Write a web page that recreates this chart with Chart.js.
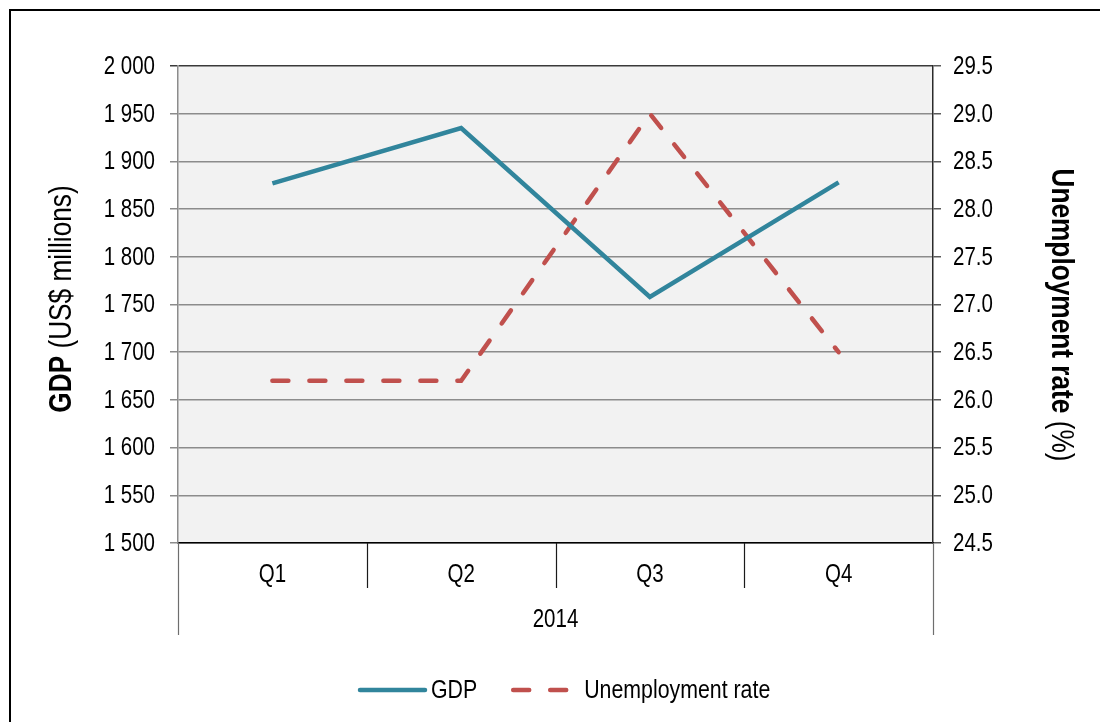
<!DOCTYPE html>
<html>
<head>
<meta charset="utf-8">
<title>GDP and unemployment rate, 2014</title>
<script src="https://cdn.jsdelivr.net/npm/chart.js@4.4.1/dist/chart.umd.min.js"></script>
<style>
  html, body { margin: 0; padding: 0; background: #fff; }
  #wrap { width: 1100px; height: 722px; position: relative; }
</style>
</head>
<body>
<div id="wrap"><canvas id="chart" width="1100" height="722"></canvas></div>
<script>
const quarters = ['Q1', 'Q2', 'Q3', 'Q4'];
const year = '2014';
const gdp = [1877, 1935, 1758, 1878];
const unemployment = [26.2, 26.2, 29.0, 26.5];
const gdpTicks = [1500, 2000, 50];
const rateTicks = [24.5, 29.5, 0.5];

const FONT = '"Liberation Sans", Arial, sans-serif';
const SQUEEZE = 0.82; // condensed look
const TEAL = '#31859c';
const RED = '#c0504d';

function spaced(v) {
  return String(v).replace(/\B(?=(\d{3})+(?!\d))/g, ' ');
}

// text squeezed horizontally to look like a narrow face
function narrow(ctx, text, x, y, align, size, bold) {
  ctx.save();
  ctx.translate(x, y);
  ctx.scale(SQUEEZE, 1);
  ctx.font = (bold ? 'bold ' : '') + size + 'px ' + FONT;
  ctx.textAlign = align;
  ctx.textBaseline = 'middle';
  ctx.fillStyle = '#000';
  ctx.fillText(text, 0, 0);
  ctx.restore();
}

// rotated title with a bold lead and a regular tail
function sideTitle(ctx, x, y, angle, bold, rest, size) {
  ctx.save();
  ctx.translate(x, y);
  ctx.rotate(angle);
  ctx.font = 'bold ' + size + 'px ' + FONT;
  const w1 = ctx.measureText(bold).width * SQUEEZE;
  ctx.font = size + 'px ' + FONT;
  const w2 = ctx.measureText(rest).width * SQUEEZE;
  const start = -(w1 + w2) / 2;
  narrow(ctx, bold, start, 0, 'left', size, true);
  narrow(ctx, rest, start + w1, 0, 'left', size, false);
  ctx.restore();
}

const decor = {
  id: 'decor',
  beforeDraw(chart) {
    const { ctx, chartArea: a } = chart;
    ctx.save();
    ctx.fillStyle = '#f2f2f2';
    ctx.fillRect(a.left, a.top, a.right - a.left, a.bottom - a.top);
    ctx.restore();
  },
  afterDraw(chart) {
    const { ctx, chartArea: a } = chart;
    const { x, y, y1 } = chart.scales;
    ctx.save();

    // outer frame (left and top edges)
    ctx.strokeStyle = '#000';
    ctx.lineWidth = 2;
    ctx.beginPath();
    ctx.moveTo(10, 722);
    ctx.lineTo(10, 10);
    ctx.lineTo(1100, 10);
    ctx.stroke();

    // value labels on both sides
    y.ticks.forEach(t => narrow(ctx, spaced(t.value), a.left - 23, y.getPixelForValue(t.value) + 1, 'right', 25));
    y1.ticks.forEach(t => narrow(ctx, t.value.toFixed(1), a.right + 20, y1.getPixelForValue(t.value) + 1, 'left', 25));

    // two-level category axis
    const step = x.getPixelForValue(1) - x.getPixelForValue(0);
    for (let i = 0; i <= quarters.length; i++) {
      const px = Math.round(x.getPixelForValue(i) - step / 2) + 0.5;
      const edge = i === 0 || i === quarters.length;
      ctx.strokeStyle = edge ? '#6e6e6e' : '#1a1a1a';
      ctx.lineWidth = 1.2;
      ctx.beginPath();
      ctx.moveTo(px, a.bottom);
      ctx.lineTo(px, a.bottom + (edge ? 92 : 45));
      ctx.stroke();
    }
    quarters.forEach((q, i) => narrow(ctx, q, x.getPixelForValue(i), a.bottom + 32, 'center', 25));
    narrow(ctx, year, (a.left + a.right) / 2, a.bottom + 77, 'center', 25);

    // axis titles
    sideTitle(ctx, 62, 299, -Math.PI / 2, 'GDP', ' (US$ millions)', 32);
    sideTitle(ctx, 1061, 315, Math.PI / 2, 'Unemployment rate', ' (%)', 32);

    // legend
    let lx = 360;
    const ly = 690;
    chart.data.datasets.forEach(ds => {
      ctx.strokeStyle = ds.borderColor;
      ctx.lineWidth = ds.borderWidth;
      ctx.lineCap = 'round';
      ctx.setLineDash(ds.borderDash || []);
      ctx.beginPath();
      ctx.moveTo(lx, ly);
      ctx.lineTo(lx + 65, ly);
      ctx.stroke();
      ctx.setLineDash([]);
      lx += 71;
      narrow(ctx, ds.label, lx, ly + 1, 'left', 26);
      ctx.font = '26px ' + FONT;
      lx += ctx.measureText(ds.label).width * SQUEEZE + 36;
    });
    ctx.restore();
  }
};

new Chart(document.getElementById('chart'), {
  type: 'line',
  data: {
    labels: quarters,
    datasets: [
      {
        label: 'GDP',
        data: gdp,
        yAxisID: 'y',
        borderColor: TEAL,
        borderWidth: 4.5,
        borderJoinStyle: 'miter',
        pointRadius: 0,
        tension: 0
      },
      {
        label: 'Unemployment rate',
        data: unemployment,
        yAxisID: 'y1',
        borderColor: RED,
        borderWidth: 4.5,
        borderDash: [16, 21],
        borderCapStyle: 'round',
        pointRadius: 0,
        tension: 0
      }
    ]
  },
  options: {
    responsive: false,
    animation: false,
    layout: { padding: { top: 66, bottom: 87, left: 0, right: 0 } },
    plugins: { legend: { display: false }, tooltip: { enabled: false } },
    scales: {
      x: {
        offset: true,
        grid: { display: false },
        ticks: { display: false },
        border: { color: '#000', width: 1.5 },
        afterFit(s) { s.height = 92; }
      },
      y: {
        position: 'left',
        min: gdpTicks[0],
        max: gdpTicks[1],
        ticks: { stepSize: gdpTicks[2], display: false },
        grid: {
          color: c => (c.tick && c.tick.value === gdpTicks[1] ? '#3a3a3a' : '#8c8c8c'),
          lineWidth: 1.5,
          tickLength: 8
        },
        border: { color: '#8c8c8c', width: 1.5 },
        afterFit(s) { s.width = 178; }
      },
      y1: {
        position: 'right',
        min: rateTicks[0],
        max: rateTicks[1],
        ticks: { stepSize: rateTicks[2], display: false },
        grid: { drawOnChartArea: false, color: '#5a5a5a', lineWidth: 1.5, tickLength: 8 },
        border: { color: '#2a2a2a', width: 1.5 },
        afterFit(s) { s.width = 167; }
      }
    }
  },
  plugins: [decor]
});
</script>
</body>
</html>
